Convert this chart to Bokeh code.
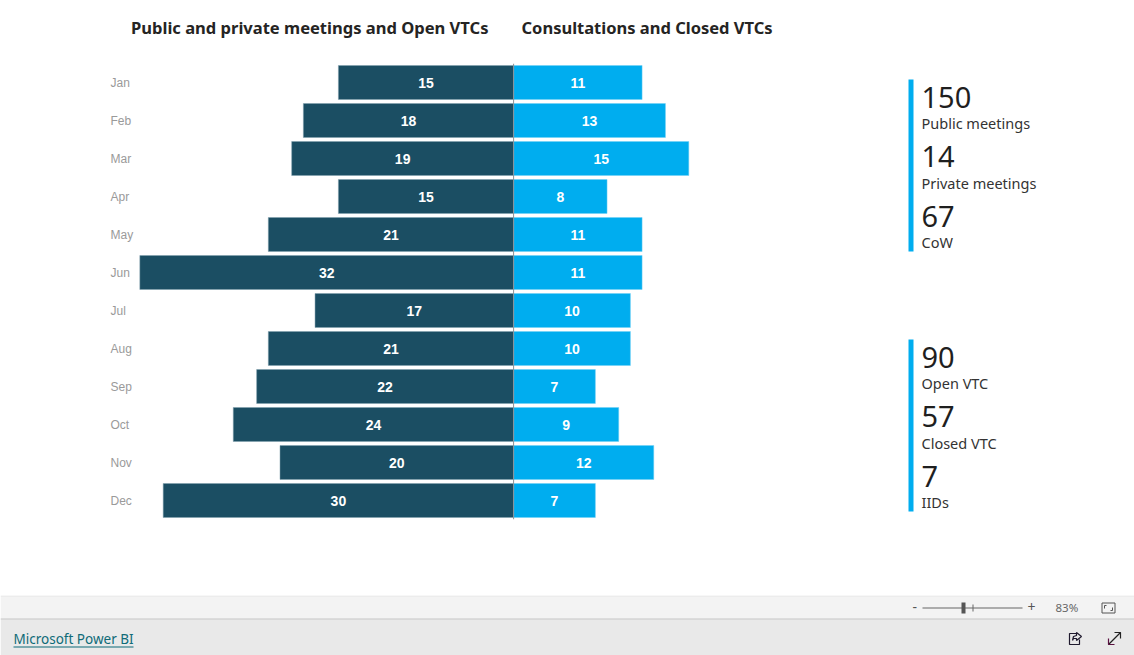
from bokeh.plotting import figure
from bokeh.layouts import column
from bokeh.embed import file_html
from bokeh.resources import INLINE
from bokeh.models import Label, BoxAnnotation, Range1d, FactorRange, ColumnDataSource, Span
from bokeh.core.properties import value

months = ["Jan", "Feb", "Mar", "Apr", "May", "Jun", "Jul", "Aug", "Sep", "Oct", "Nov", "Dec"]
open_vtcs = [15, 18, 19, 15, 21, 32, 17, 21, 22, 24, 20, 30]
closed_vtcs = [11, 13, 15, 8, 11, 11, 10, 10, 7, 9, 12, 7]
kpi_top = [("150", "Public meetings"), ("14", "Private meetings"), ("67", "CoW")]
kpi_bottom = [("90", "Open VTC"), ("57", "Closed VTC"), ("7", "IIDs")]
title_left = "Public and private meetings and Open VTCs"
title_right = "Consultations and Closed VTCs"

W, HEAD_H, FOOT_H = 1134, 63, 60
FB = 519
MAIN_H = 595 - HEAD_H
CENTER, PX_PER_UNIT = 513.1, 11.68
DARK, BLUE = "#1B4E63", "#00ADEF"
UI = "Noto Sans"


def strip(height, y0, y1):
    s = figure(width=W, height=height, output_backend="svg", toolbar_location=None,
               x_range=Range1d(0, W), y_range=Range1d(y1, y0), min_border=0,
               outline_line_color=None, background_fill_color="white", border_fill_color="white")
    s.grid.visible = False
    s.axis.visible = False
    return s


def text(s, x, y, t, size, color, font=UI, style="normal"):
    s.text(x=[x], y=[y], text=[t], text_font=value(font), text_font_size=size, text_color=color,
           text_baseline="middle", text_align="left", text_font_style=style)


h = strip(HEAD_H, 0, HEAD_H)
text(h, 130.5, 27, title_left, "16.55px", "#252423", style="bold")
text(h, 521, 27, title_right, "16.5px", "#252423", style="bold")

p = figure(width=W, height=MAIN_H, output_backend="svg", toolbar_location=None,
           x_range=Range1d(-CENTER / PX_PER_UNIT, (W - CENTER) / PX_PER_UNIT),
           y_range=FactorRange(*months[::-1], factor_padding=0, range_padding=0),
           min_border_left=0, min_border_right=0, min_border_top=0, min_border_bottom=595 - FB,
           outline_line_color=None, background_fill_color="white", border_fill_color="white")
p.grid.visible = False
p.xaxis.visible = False
p.yaxis.visible = False

src = ColumnDataSource(dict(m=months, left=[-v for v in open_vtcs], right=closed_vtcs,
                            lx=[-v / 2 for v in open_vtcs], rx=[v / 2 for v in closed_vtcs],
                            lt=[str(v) for v in open_vtcs], rt=[str(v) for v in closed_vtcs],
                            ax=[(110 - CENTER) / PX_PER_UNIT] * len(months)))
p.hbar(y="m", left="left", right=0, height=34 / 38, source=src, fill_color=DARK,
       line_color="#7f9fad", line_alpha=0.5, line_width=1)
p.hbar(y="m", left=0, right="right", height=34 / 38, source=src, fill_color=BLUE,
       line_color="#6fd0f5", line_alpha=0.5, line_width=1)
p.add_layout(Span(location=0, dimension="height", line_color="#8c9196", line_width=1))
for xc, tc in (("lx", "lt"), ("rx", "rt")):
    p.text(x=xc, y="m", text=tc, source=src, text_color="white", text_align="center", text_baseline="middle",
           text_font=value("Liberation Sans"), text_font_style="bold", text_font_size="14px")
p.text(x="ax", y="m", text="m", source=src, text_color="#9a9a9a", text_align="left", text_baseline="middle",
       text_font=value("Liberation Sans"), text_font_size="12px")


def sy(y):
    return FB - y


def label(x, y, t, size, color):
    p.add_layout(Label(x=x, y=sy(y), x_units="screen", y_units="screen", text=t, text_font=UI,
                       text_font_size=size, text_color=color, text_baseline="middle", text_align="left"))


for top, rows in ((79, kpi_top), (339, kpi_bottom)):
    p.add_layout(BoxAnnotation(left=908, right=913, top=sy(top), bottom=sy(top + 172), left_units="screen",
                               right_units="screen", top_units="screen", bottom_units="screen",
                               fill_color=BLUE, fill_alpha=1, line_color=None))
    for i, (num, name) in enumerate(rows):
        label(921, top + 17.5 + i * 59.5, num, "29px", "#1f1f1f")
        label(921, top + 43.5 + i * 59.5, name, "14.5px", "#333333")

# report-viewer chrome, in its own strip below the chart (coordinates: page pixels)
f = strip(FOOT_H, 595, 655)


def rect(x0, y0, x1, y1, color):
    f.quad(left=x0, right=x1, top=y0, bottom=y1, fill_color=color, line_color=None)


rect(0, 596, W, 618, "#F3F3F3")
rect(0, 618, W, 655, "#E9E9E9")
rect(0, 595, W, 596, "#E0E0E0")
rect(0, 618, W, 619, "#C8C8C8")
text(f, 13, 638, "Microsoft Power BI", "13.5px", "#0F6B78")
rect(13, 646, 133, 647, "#0F6B78")
text(f, 912, 606, "-", "14px", "#555555")
rect(922, 607, 1022, 608, "#666666")
rect(961, 602, 965, 613, "#555555")
rect(972, 604, 973, 611, "#666666")
text(f, 1027, 606, "+", "14px", "#555555")
text(f, 1055, 606.5, "83%", "11.5px", "#666666")
f.quad(left=1101.5, right=1114.5, top=602.5, bottom=612.5, fill_color="#F3F3F3", line_color="#555555", line_width=1)
f.multi_line(xs=[[1104, 1104, 1106], [1112, 1112, 1110]], ys=[[608, 605, 605], [607, 610, 610]],
             line_color="#555555", line_width=1)
# share icon
f.multi_line(xs=[[1077, 1069, 1069, 1079, 1079], [1072, 1073, 1076, 1076, 1081, 1076, 1076, 1073, 1072]],
             ys=[[633, 633, 644, 644, 639], [640, 636, 635, 632, 636, 640, 638, 638, 640]],
             line_color="#1f1a2e", line_width=1.2)
# expand icon
f.multi_line(xs=[[1108, 1120], [1114, 1120, 1120]], ys=[[644, 632], [632, 632, 638]], line_color="#222222", line_width=1.2)
f.multi_line(xs=[[1108, 1108, 1114]], ys=[[638, 644, 644]], line_color="#5a1040", line_width=1.2)

page = column(h, p, f, spacing=0)
page.styles = {"position": "absolute", "left": "0", "top": "0"}
open("out.html", "w").write(file_html(page, INLINE))
